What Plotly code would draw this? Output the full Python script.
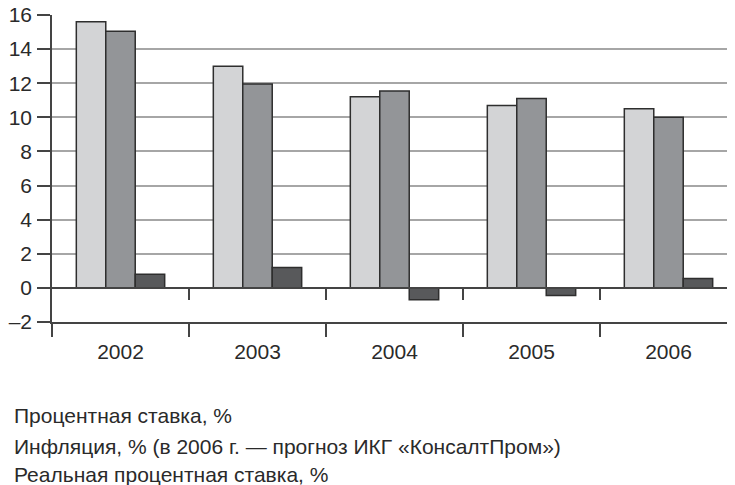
import plotly.graph_objects as go

years = ["2002", "2003", "2004", "2005", "2006"]
interest_rate = [15.6, 13.0, 11.2, 10.7, 10.5]
inflation = [15.05, 11.95, 11.55, 11.1, 10.0]
real_rate = [0.8, 1.2, -0.7, -0.45, 0.55]

series_names = [
    "Процентная ставка, %",
    "Инфляция, % (в 2006 г. — прогноз ИКГ «КонсалтПром»)",
    "Реальная процентная ставка, %",
]
colors = ["#d3d4d6", "#939598", "#58595b"]

y_ticks = [-2, 0, 2, 4, 6, 8, 10, 12, 14, 16]
y_ticktext = ["–2", "0", "2", "4", "6", "8", "10", "12", "14", "16"]

fig = go.Figure()
for name, vals, col in zip(series_names, [interest_rate, inflation, real_rate], colors):
    fig.add_trace(go.Bar(
        x=years, y=vals, name=name,
        marker=dict(color=col, line=dict(color="#2e2e2e", width=1.5)),
        showlegend=False,
    ))

# invisible trace to carry secondary x-axis (zero-line ticks)
fig.add_trace(go.Scatter(x=[0, 4], y=[None, None], xaxis="x2", showlegend=False,
                         hoverinfo="skip", mode="markers", marker=dict(opacity=0)))

font = "Liberation Sans, Arial, sans-serif"

fig.update_layout(
    width=735, height=485,
    margin=dict(l=44, r=6, t=7, b=171),
    paper_bgcolor="white", plot_bgcolor="white",
    barmode="group", bargap=0.355, bargroupgap=0,
    font=dict(family=font, size=21, color="#2a2a2a"),
    xaxis=dict(
        type="category", tickson="boundaries", ticks="outside", ticklen=13,
        tickwidth=1.5, tickcolor="#444", showline=True, linecolor="#444",
        linewidth=1.5, showgrid=False, tickfont=dict(size=21, color="#2a2a2a"),
        anchor="y", ticklabelstandoff=10, automargin=False,
    ),
    xaxis2=dict(
        overlaying="x", anchor="free", position=2 / 18, range=[-0.5, 4.5],
        tickvals=[0.5, 1.5, 2.5, 3.5], ticks="outside", ticklen=11,
        tickwidth=1.5, tickcolor="#444", showticklabels=False,
        showline=True, linecolor="#444", linewidth=1.5, showgrid=False,
        zeroline=False, automargin=False,
    ),
    yaxis=dict(
        range=[-2, 16], tickvals=y_ticks, ticktext=y_ticktext,
        ticks="outside", ticklen=13, tickwidth=1.5, tickcolor="#444",
        showline=True, linecolor="#444", linewidth=1.5,
        showgrid=True, gridcolor="#a6a6a6", gridwidth=1.5,
        zeroline=False, tickfont=dict(size=21, color="#2a2a2a"),
        automargin=False, ticklabelstandoff=1, ticklabeloverflow="allow",
    ),
)

legend_y = [-0.303, -0.404, -0.497]
for name, yy in zip(series_names, legend_y):
    fig.add_annotation(
        text=name, xref="paper", yref="paper", x=-0.0584, y=yy,
        xanchor="left", yanchor="middle", showarrow=False,
        font=dict(family=font, size=21, color="#2a2a2a"),
    )

fig.write_html("out.html")
